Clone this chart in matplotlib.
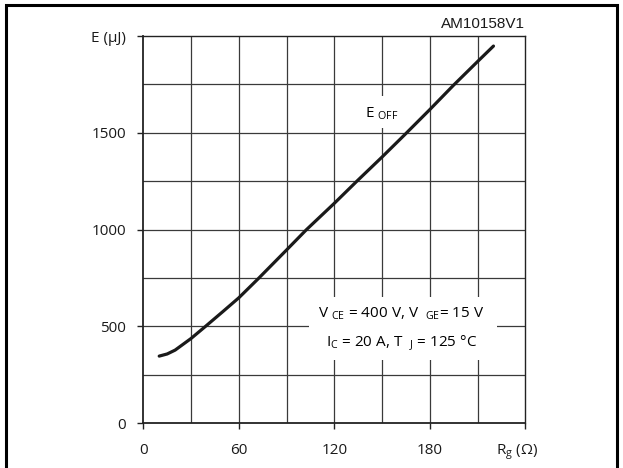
import matplotlib
matplotlib.use("Agg")
import matplotlib.pyplot as plt
from matplotlib.lines import Line2D
from matplotlib.patches import Rectangle

plt.rcParams['font.family'] = ['Open Sans', 'DejaVu Sans']
plt.rcParams['mathtext.fontset'] = 'custom'
plt.rcParams['mathtext.rm'] = 'Open Sans'
plt.rcParams['mathtext.it'] = 'Open Sans'
plt.rcParams['mathtext.bf'] = 'Open Sans'

# Data
rg = [10, 15, 20, 30, 39, 50, 60, 72, 90, 102.5, 120, 134.4, 150, 164.2, 180, 194.8, 210, 220]
e_off = [347, 358, 378, 438, 500, 577, 648, 745, 895, 1000, 1136, 1252, 1375, 1490, 1620, 1745, 1868, 1948]

x_ticks = [0, 60, 120, 180]
x_tick_labels = ['0', '60', '120', '180']
y_ticks = [0, 500, 1000, 1500, 2000]
y_tick_labels = ['0', '500', '1000', '1500', 'E (µJ)']
x_grid = [30, 60, 90, 120, 150, 180, 210]
y_grid = [250, 500, 750, 1000, 1250, 1500, 1750]

FS = 11

fig = plt.figure(figsize=(6.23, 4.68), dpi=100)
ax = fig.add_axes([143.3 / 623, (468 - 423.3) / 468, 382 / 623, 387.3 / 468])
ax.set_xlim(0, 240)
ax.set_ylim(0, 2000)

grid_color = '#3a3a3a'
for g in x_grid:
    ax.axvline(g, color=grid_color, lw=0.9, zorder=1)
for g in y_grid:
    ax.axhline(g, color=grid_color, lw=0.9, zorder=1)

# white boxes behind annotations
ax.add_patch(Rectangle((104, 327), 118, 325, facecolor='white', edgecolor='none', zorder=2))
ax.add_patch(Rectangle((137, 1526), 25, 164, facecolor='white', edgecolor='none', zorder=2))

ax.plot(rg, e_off, color='#1a1a1a', lw=2.3, solid_capstyle='round',
        solid_joinstyle='round', zorder=4)

ax.text(139.2, 1600, r'E $_{\mathregular{OFF}}$', fontsize=FS, ha='left', va='center', zorder=5)
ax.text(162.3, 568, r'V $_{\mathregular{CE}}$ = 400 V, V  $_{\mathregular{GE}}$= 15 V',
        fontsize=FS, ha='center', va='center', zorder=5)
ax.text(162.3, 413, r'I$_{\mathregular{C}}$ = 20 A, T  $_{\mathregular{J}}$ = 125 °C',
        fontsize=FS, ha='center', va='center', zorder=5)

ax.set_xticks(x_ticks + [240])
ax.set_xticklabels(x_tick_labels + [''])
ax.set_yticks(y_ticks)
ax.set_yticklabels(y_tick_labels)
ax.tick_params(axis='both', direction='out', length=4.2, width=1.0, color='#222222',
               labelsize=FS, labelcolor='#1a1a1a')
ax.tick_params(axis='x', pad=10)
ax.tick_params(axis='y', pad=8)

ax.annotate(r'R$_{\mathregular{g}}$ (Ω)', xy=(235, 0), xycoords=('data', 'axes fraction'),
            xytext=(0, -14), textcoords='offset points', ha='center', va='top',
            fontsize=FS, color='#1a1a1a')

ax.text(1.0, 1.012, 'AM10158V1', transform=ax.transAxes, ha='right', va='bottom',
        fontsize=FS, family=['Liberation Sans', 'DejaVu Sans'], color='#1a1a1a')

for s in ax.spines.values():
    s.set_color('#222222')
    s.set_linewidth(1.0)
ax.spines['left'].set_linewidth(1.3)
ax.spines['bottom'].set_linewidth(1.3)

# outer frame (left, top, right)
fx_l, fx_r, fy_t = 6 / 623, 617 / 623, 1 - 5 / 468
fig.add_artist(Line2D([fx_l, fx_l, fx_r, fx_r], [0, fy_t, fy_t, 0],
                      transform=fig.transFigure, color='black', lw=2.2,
                      solid_joinstyle='miter'))

fig.savefig('out.png', dpi=100)
